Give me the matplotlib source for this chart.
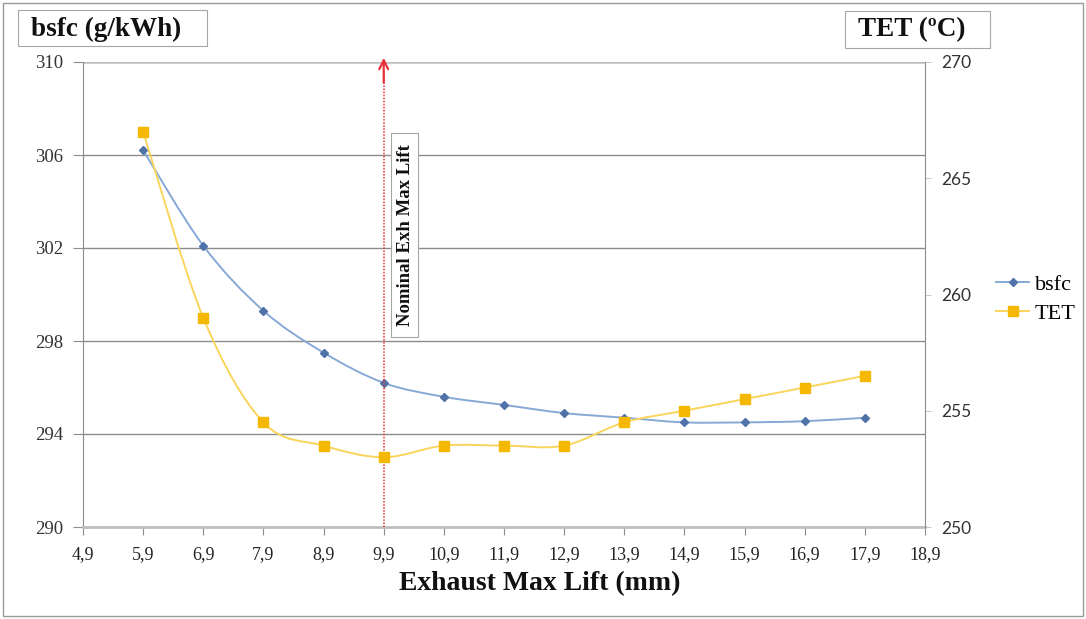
import matplotlib
matplotlib.use("Agg")
import matplotlib.pyplot as plt
from matplotlib.path import Path
from matplotlib.patches import PathPatch, Rectangle
from matplotlib.lines import Line2D

# Engine data: exhaust valve maximum lift sweep
lift_mm = [5.9, 6.9, 7.9, 8.9, 9.9, 10.9, 11.9, 12.9, 13.9, 14.9, 15.9, 16.9, 17.9]
bsfc = [306.2, 302.1, 299.3, 297.5, 296.2, 295.6, 295.25, 294.9, 294.7, 294.5, 294.5, 294.55, 294.7]
tet = [267.0, 259.0, 254.5, 253.5, 253.0, 253.5, 253.5, 253.5, 254.5, 255.0, 255.5, 256.0, 256.5]

nominal_lift = 9.9
x_ticks = [4.9, 5.9, 6.9, 7.9, 8.9, 9.9, 10.9, 11.9, 12.9, 13.9, 14.9, 15.9, 16.9, 17.9, 18.9]
x_tick_labels = ["4,9", "5,9", "6,9", "7,9", "8,9", "9,9", "10,9", "11,9", "12,9",
                 "13,9", "14,9", "15,9", "16,9", "17,9", "18,9"]
bsfc_ticks = [290, 294, 298, 302, 306, 310]
tet_ticks = [250, 255, 260, 265, 270]

W, H = 1086, 619
SERIF = "Liberation Serif"
BLUE_LINE, BLUE_MARK = "#86A9D6", "#4F72A8"
GOLD_LINE, GOLD_MARK = "#FAD55C", "#F5B800"
GRID = "#8C8C8C"


def smooth_path(xs, ys):
    """Cardinal (Catmull-Rom) Bezier path through the points, like a smoothed line chart."""
    pts = list(zip(xs, ys))
    verts = [pts[0]]
    codes = [Path.MOVETO]
    n = len(pts)
    for i in range(n - 1):
        p0 = pts[i - 1] if i > 0 else pts[i]
        p1 = pts[i]
        p2 = pts[i + 1]
        p3 = pts[i + 2] if i + 2 < n else pts[i + 1]
        c1 = (p1[0] + (p2[0] - p0[0]) / 6.0, p1[1] + (p2[1] - p0[1]) / 6.0)
        c2 = (p2[0] - (p3[0] - p1[0]) / 6.0, p2[1] - (p3[1] - p1[1]) / 6.0)
        verts += [c1, c2, p2]
        codes += [Path.CURVE4] * 3
    return Path(verts, codes)


fig = plt.figure(figsize=(W / 100, H / 100), dpi=100)
fig.patch.set_facecolor("white")

left, right, top, bottom = 83, 925, 62, 527
ax = fig.add_axes([left / W, 1 - bottom / H, (right - left) / W, (bottom - top) / H])
ax2 = ax.twinx()

ax.set_xlim(4.9, 18.9)
ax.set_ylim(290, 310)
ax2.set_ylim(250, 270)

# horizontal gridlines from the bsfc axis
for v in bsfc_ticks[1:-1]:
    ax.axhline(v, color=GRID, lw=1.0, zorder=1)
ax.axhline(310, color="#BDBDBD", lw=1.8, zorder=1)

for s in ["top"]:
    ax.spines[s].set_visible(False)
    ax2.spines[s].set_visible(False)
ax.spines["bottom"].set_color("#BDBDBD")
ax.spines["bottom"].set_linewidth(2.0)
ax.spines["left"].set_color(GRID)
ax2.spines["left"].set_visible(False)
ax2.spines["bottom"].set_visible(False)
ax2.spines["right"].set_color(GRID)
ax.spines["right"].set_visible(False)

ax.set_xticks(x_ticks)
ax.set_xticklabels(x_tick_labels, fontfamily=SERIF, fontsize=13, color="#222222")
ax.set_yticks(bsfc_ticks)
ax.set_yticklabels([str(t) for t in bsfc_ticks], fontfamily=SERIF, fontsize=13.5, color="#333333")
ax2.set_yticks(tet_ticks)
ax2.set_yticklabels([str(t) for t in tet_ticks], fontfamily="Lato", fontsize=12.5, color="#333333")

ax.tick_params(axis="x", direction="out", length=6, width=0.8, color=GRID, pad=8)
ax.tick_params(axis="y", direction="out", length=7, width=0.8, color=GRID, pad=7)
ax2.tick_params(axis="y", direction="out", length=4, width=0.6, color="#BDBDBD", pad=8)

# bsfc series (left axis)
ax.add_patch(PathPatch(smooth_path(lift_mm, bsfc), fill=False, edgecolor=BLUE_LINE,
                       lw=1.4, zorder=3))
ax.plot(lift_mm, bsfc, linestyle="none", marker="D", markersize=4.5,
        color=BLUE_MARK, zorder=4)

# TET series (right axis)
ax2.add_patch(PathPatch(smooth_path(lift_mm, tet), fill=False, edgecolor=GOLD_LINE,
                        lw=1.4, zorder=3))
ax2.plot(lift_mm, tet, linestyle="none", marker="s", markersize=6.5,
         color=GOLD_MARK, zorder=4)

# nominal lift marker line with arrow head
ax.plot([nominal_lift, nominal_lift], [290, 309.6], color="#E8303A", lw=1.1,
        linestyle=(0, (1, 1)), zorder=5, clip_on=False)
ax.annotate("", xy=(nominal_lift, 310.3), xytext=(nominal_lift, 309.0),
            arrowprops=dict(arrowstyle="->", color="#E8303A", lw=1.6,
                            mutation_scale=16), zorder=6, annotation_clip=False)

# rotated label box next to the nominal line
bx0, bx1, by0, by1 = 391, 418, 133, 337
fig.add_artist(Rectangle((bx0 / W, 1 - by1 / H), (bx1 - bx0) / W, (by1 - by0) / H,
                         transform=fig.transFigure, facecolor="white",
                         edgecolor="#A6A6A6", lw=0.8, zorder=6))
fig.text((bx0 + bx1) / 2 / W + 0.5 / W, 1 - (by0 + by1) / 2 / H, "Nominal Exh Max Lift",
         rotation=90, ha="center", va="center", fontfamily=SERIF, fontweight="bold",
         fontsize=13.5, color="#111111", zorder=7)

# axis titles in boxes
fig.add_artist(Rectangle((18 / W, 1 - 46 / H), 189 / W, 36 / H, transform=fig.transFigure,
                         facecolor="white", edgecolor="#A6A6A6", lw=0.8))
fig.text(106 / W, 1 - 29 / H, "bsfc (g/kWh)", ha="center", va="center",
         fontfamily=SERIF, fontweight="bold", fontsize=19.5, color="#111111")
fig.add_artist(Rectangle((845 / W, 1 - 48 / H), 145 / W, 37 / H, transform=fig.transFigure,
                         facecolor="white", edgecolor="#A6A6A6", lw=0.8))
fig.text(912 / W, 1 - 30 / H, "TET (ºC)", ha="center", va="center",
         fontfamily=SERIF, fontweight="bold", fontsize=19.5, color="#111111")

fig.text(540 / W, 1 - 584 / H, "Exhaust Max Lift (mm)", ha="center", va="center",
         fontfamily=SERIF, fontweight="bold", fontsize=20, color="#111111")

# legend
handles = [
    Line2D([], [], color=BLUE_LINE, lw=1.4, marker="D", markersize=4.5,
           markerfacecolor=BLUE_MARK, markeredgecolor=BLUE_MARK),
    Line2D([], [], color=GOLD_LINE, lw=1.4, marker="s", markersize=6.5,
           markerfacecolor=GOLD_MARK, markeredgecolor=GOLD_MARK),
]
fig.legend(handles, ["bsfc", "TET"], loc="center left",
           bbox_to_anchor=(985 / W, 1 - 299 / H), frameon=False,
           prop={"family": SERIF, "size": 16}, handlelength=1.5,
           handletextpad=0.25, labelspacing=0.4, borderpad=0)

# outer chart frame
fig.add_artist(Rectangle((3 / W, 3 / H), (W - 6) / W, (H - 6) / H,
                         transform=fig.transFigure, fill=False,
                         edgecolor="#9A9A9A", lw=1.0))

fig.savefig("out.png", dpi=100, facecolor="white")
